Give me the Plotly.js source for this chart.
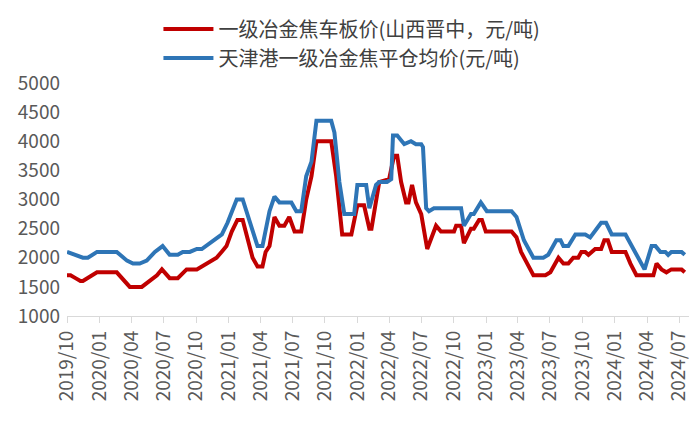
<!DOCTYPE html>
<html>
<head>
<meta charset="utf-8">
<script src="https://cdn.plot.ly/plotly-3.0.1.min.js"></script>
<style>html,body{margin:0;padding:0;background:#fff;}#chart{width:700px;height:433px;}</style>
</head>
<body>
<div id="chart"></div>
<script>
// Series names
const seriesNames = ["一级冶金焦车板价(山西晋中，元/吨)", "天津港一级冶金焦平仓均价(元/吨)"];

// 山西晋中 一级冶金焦车板价 (元/吨)
const redDates = ["2019-10-01","2019-10-11","2019-10-25","2019-11-08","2019-11-15","2019-11-29","2019-12-13","2019-12-25","2020-02-19","2020-03-06","2020-03-27","2020-04-30","2020-05-23","2020-06-12","2020-06-26","2020-07-18","2020-08-10","2020-09-04","2020-10-03","2020-10-31","2020-11-28","2020-12-12","2020-12-26","2021-01-10","2021-01-26","2021-02-10","2021-02-24","2021-03-10","2021-03-24","2021-04-07","2021-04-16","2021-04-27","2021-05-11","2021-05-25","2021-06-08","2021-06-22","2021-07-07","2021-07-26","2021-08-09","2021-08-24","2021-09-07","2021-10-19","2021-11-02","2021-11-19","2021-12-15","2022-01-01","2022-01-20","2022-02-04","2022-02-10","2022-02-23","2022-03-04","2022-04-01","2022-04-15","2022-04-24","2022-05-05","2022-05-19","2022-05-26","2022-06-05","2022-06-16","2022-07-01","2022-07-18","2022-08-12","2022-08-26","2022-10-02","2022-10-08","2022-10-22","2022-10-30","2022-11-19","2022-11-27","2022-12-12","2022-12-20","2022-12-31","2023-03-14","2023-03-28","2023-04-10","2023-04-23","2023-05-15","2023-06-18","2023-07-02","2023-07-25","2023-08-08","2023-08-22","2023-09-05","2023-09-19","2023-09-28","2023-10-09","2023-10-18","2023-11-06","2023-11-23","2023-12-02","2023-12-12","2023-12-23","2024-01-31","2024-02-14","2024-03-02","2024-04-19","2024-04-28","2024-05-12","2024-05-26","2024-06-09","2024-07-08","2024-07-17"];
const redValues = [1700,1700,1650,1600,1600,1650,1700,1750,1750,1650,1500,1500,1600,1700,1800,1650,1650,1800,1800,1900,2000,2100,2200,2450,2650,2650,2300,2000,1850,1850,2100,2200,2700,2550,2550,2700,2450,2450,3000,3400,4000,4000,3400,2400,2400,2900,2900,2500,2500,2950,3300,3350,3750,3750,3300,2950,2950,3250,2950,2750,2150,2550,2450,2450,2550,2550,2250,2500,2500,2650,2650,2450,2450,2350,2100,1950,1700,1700,1750,2000,1900,1900,2000,2000,2100,2100,2050,2150,2150,2300,2300,2100,2100,1900,1700,1700,1900,1800,1750,1800,1800,1750];

// 天津港 一级冶金焦平仓均价 (元/吨)
const blueDates = ["2019-10-01","2019-10-24","2019-11-15","2019-11-29","2019-12-25","2020-02-19","2020-03-19","2020-04-05","2020-04-24","2020-05-14","2020-06-06","2020-06-28","2020-07-18","2020-08-10","2020-08-24","2020-09-13","2020-10-03","2020-10-17","2020-11-08","2020-11-28","2020-12-13","2020-12-29","2021-01-24","2021-02-10","2021-02-24","2021-03-10","2021-03-24","2021-04-07","2021-04-18","2021-04-27","2021-05-11","2021-05-25","2021-06-28","2021-07-12","2021-07-26","2021-08-09","2021-08-24","2021-09-07","2021-10-19","2021-10-28","2021-11-11","2021-11-25","2021-12-23","2022-01-01","2022-01-26","2022-02-04","2022-02-23","2022-03-04","2022-03-26","2022-04-07","2022-04-12","2022-04-24","2022-05-14","2022-06-02","2022-06-16","2022-07-01","2022-07-06","2022-07-15","2022-07-23","2022-08-06","2022-10-22","2022-10-30","2022-11-19","2022-11-27","2022-12-17","2023-01-03","2023-03-14","2023-03-28","2023-04-18","2023-05-02","2023-05-15","2023-06-12","2023-06-26","2023-07-19","2023-07-31","2023-08-08","2023-08-22","2023-09-11","2023-10-09","2023-10-23","2023-11-09","2023-11-23","2023-12-07","2023-12-23","2024-01-31","2024-02-14","2024-03-02","2024-03-25","2024-04-14","2024-04-25","2024-05-09","2024-05-23","2024-05-31","2024-06-09","2024-07-08","2024-07-17"];
const blueValues = [2100,2050,2000,2000,2100,2100,1950,1900,1900,1950,2100,2200,2050,2050,2100,2100,2150,2150,2250,2350,2400,2600,3000,3000,2750,2450,2200,2200,2500,2800,3050,2950,2950,2800,2800,3400,3650,4350,4350,4150,3300,2750,2750,3250,3250,2850,3250,3300,3300,3350,4100,4100,3950,4000,3950,3950,3900,2850,2800,2850,2850,2550,2750,2750,2950,2800,2800,2700,2300,2150,2000,2000,2050,2300,2300,2200,2200,2400,2400,2350,2500,2600,2600,2400,2400,2250,2050,1800,2200,2200,2100,2100,2050,2100,2100,2050];

// Axis tick labels
const xTickLabels = ["2019/10","2020/01","2020/04","2020/07","2020/10","2021/01","2021/04","2021/07","2021/10","2022/01","2022/04","2022/07","2022/10","2023/01","2023/04","2023/07","2023/10","2024/01","2024/04","2024/07"];
const yTickValues = [1000,1500,2000,2500,3000,3500,4000,4500,5000];

const tickVals = xTickLabels.map(s => s.replace("/", "-") + "-01");
const FONT = "'Noto Sans CJK SC', 'Noto Sans', sans-serif";

const traces = [
  {x: redDates, y: redValues, name: seriesNames[0], type: "scatter", mode: "lines",
   line: {color: "#C00000", width: 4}},
  {x: blueDates, y: blueValues, name: seriesNames[1], type: "scatter", mode: "lines",
   line: {color: "#2E75B6", width: 4}}
];

const layout = {
  width: 700, height: 433,
  margin: {l: 67, r: 11, t: 83, b: 117, autoexpand: false},
  paper_bgcolor: "#fff", plot_bgcolor: "#fff",
  font: {family: FONT, color: "#595959"},
  showlegend: true,
  legend: {orientation: "v", x: 0.147, xanchor: "left", yref: "container", y: 0.978, yanchor: "top",
           itemwidth: 50,
           font: {family: FONT, size: 20, color: "#404040"}, bgcolor: "rgba(0,0,0,0)"},
  xaxis: {type: "date", range: ["2019-10-01", "2024-07-29"],
          tickmode: "array", tickvals: tickVals, ticktext: xTickLabels,
          tickangle: -90, tickfont: {family: FONT, size: 19, color: "#595959"},
          showgrid: false, zeroline: false, showline: true, linecolor: "#D9D9D9", linewidth: 1,
          ticks: "outside", ticklen: 6, tickcolor: "#D9D9D9"},
  yaxis: {range: [1000, 5000], tickmode: "array", tickvals: yTickValues,
          tickfont: {family: FONT, size: 19, color: "#595959"},
          showgrid: false, zeroline: false, showline: false, ticks: "", ticklabelstandoff: 6}
};

Plotly.newPlot("chart", traces, layout, {staticPlot: true});
</script>
</body>
</html>
